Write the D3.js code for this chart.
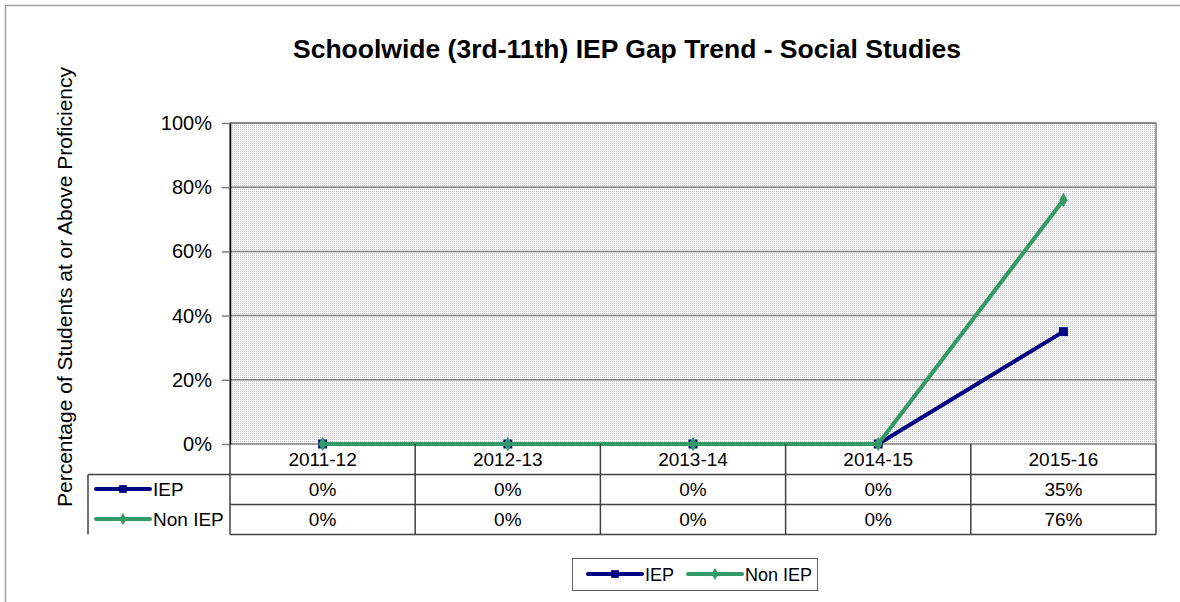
<!DOCTYPE html>
<html>
<head>
<meta charset="utf-8">
<script src="https://cdn.jsdelivr.net/npm/d3@7"></script>
<style>
  body { margin: 0; background: #fff; }
  svg { font-family: "Liberation Sans", Arial, sans-serif; }
</style>
</head>
<body>
<svg id="chart" width="1180" height="602"></svg>
<script>
// data
var years = ["2011-12", "2012-13", "2013-14", "2014-15", "2015-16"];
var iepValues = [0, 0, 0, 0, 35];
var nonIepValues = [0, 0, 0, 0, 76];
var yTicks = [0, 20, 40, 60, 80, 100];

var seriesNames = ["IEP", "Non IEP"];
var seriesColors = ["#000080", "#339966"];
var seriesValues = [iepValues, nonIepValues];

var margin = {left: 230, top: 123, right: 24, bottom: 158};
var width = 1180 - margin.left - margin.right;
var height = 602 - margin.top - margin.bottom;

var svg = d3.select("#chart");

// outer frame, runs off the right and bottom edges
svg.append("rect")
    .attr("x", 5.5).attr("y", 5.5)
    .attr("width", 1200).attr("height", 700)
    .attr("fill", "white")
    .attr("stroke", "#a0a0a0")
    .attr("stroke-width", 1.5);

// dotted plot fill
var defs = svg.append("defs");
var pat = defs.append("pattern")
    .attr("id", "dots")
    .attr("width", 2).attr("height", 2)
    .attr("patternUnits", "userSpaceOnUse");
pat.append("rect").attr("width", 2).attr("height", 2).attr("fill", "#f6f6f6");
pat.append("rect").attr("width", 1).attr("height", 1).attr("fill", "#cacaca");

var xs = d3.scaleBand().domain(years).range([0, width]);
var ys = d3.scaleLinear().domain([0, 100]).range([height, 0]);

var g = svg.append("g")
    .attr("transform", "translate(" + margin.left + "," + margin.top + ")");

g.append("rect")
    .attr("width", width).attr("height", height)
    .attr("fill", "url(#dots)")
    .attr("stroke", "#808080")
    .attr("stroke-width", 1.5);

// gridlines
g.selectAll(".grid")
    .data(yTicks.filter(d => d > 0))
    .enter()
    .append("line")
        .attr("x1", 0).attr("x2", width)
        .attr("y1", d => ys(d)).attr("y2", d => ys(d))
        .attr("stroke", "#808080")
        .attr("stroke-width", 1.5);

// y axis
var yAxis = g.append("g")
    .call(d3.axisLeft(ys).tickValues(yTicks).tickFormat(d => d + "%").tickSize(8).tickSizeOuter(0).tickPadding(10));
yAxis.select(".domain").attr("stroke", "#000").attr("stroke-width", 1.5);
yAxis.selectAll(".tick line").attr("stroke", "#808080").attr("stroke-width", 1.5);
yAxis.selectAll("text")
    .style("font-size", "20px")
    .style("font-family", "Liberation Sans, Arial, sans-serif")
    .attr("fill", "#000");

// lines + markers
var line = d3.line()
    .x((d, i) => xs(years[i]) + xs.bandwidth() / 2)
    .y(d => ys(d));

seriesValues.forEach(function(vals, s) {
    g.append("path")
        .datum(vals)
        .attr("d", line)
        .attr("fill", "none")
        .attr("stroke", seriesColors[s])
        .attr("stroke-width", 4);

    var sym = s == 0 ? d3.symbolSquare : d3.symbolDiamond;
    var size = s == 0 ? 80 : 60;
    g.selectAll(".m" + s)
        .data(vals)
        .enter()
        .append("path")
            .attr("transform", (d, i) => "translate(" + (xs(years[i]) + xs.bandwidth() / 2) + "," + ys(d) + ")")
            .attr("d", d3.symbol().type(sym).size(size))
            .attr("fill", seriesColors[s]);
});

// data table under the plot
var rowH = 30;
var tableTop = margin.top + height;
var tableLeft = 88;
var tbl = svg.append("g");

var rowLines = [1, 2, 3];
tbl.selectAll(".hline")
    .data(rowLines)
    .enter()
    .append("line")
        .attr("x1", d => d == 1 ? tableLeft : margin.left)
        .attr("x2", margin.left + width)
        .attr("y1", d => tableTop + d * rowH + 0.5)
        .attr("y2", d => tableTop + d * rowH + 0.5)
        .attr("stroke", "#404040")
        .attr("stroke-width", 1.5);

tbl.selectAll(".vline")
    .data(years.concat(["end"]))
    .enter()
    .append("line")
        .attr("x1", (d, i) => margin.left + i * xs.bandwidth())
        .attr("x2", (d, i) => margin.left + i * xs.bandwidth())
        .attr("y1", tableTop)
        .attr("y2", tableTop + 3 * rowH + 0.5)
        .attr("stroke", "#404040")
        .attr("stroke-width", 1.5);

tbl.append("line")
    .attr("x1", tableLeft).attr("x2", tableLeft)
    .attr("y1", tableTop + rowH + 0.5).attr("y2", tableTop + 3 * rowH + 0.5)
    .attr("stroke", "#404040").attr("stroke-width", 1.5);

tbl.selectAll(".cat")
    .data(years)
    .enter()
    .append("text")
        .attr("x", d => margin.left + xs(d) + xs.bandwidth() / 2)
        .attr("y", tableTop + 22)
        .attr("text-anchor", "middle")
        .style("font-size", "19px")
        .text(d => d);

seriesValues.forEach(function(vals, s) {
    var cy = tableTop + rowH * (s + 1) + rowH / 2;
    tbl.selectAll(".val" + s)
        .data(vals)
        .enter()
        .append("text")
            .attr("x", (d, i) => margin.left + xs(years[i]) + xs.bandwidth() / 2)
            .attr("y", cy + 7)
            .attr("text-anchor", "middle")
            .style("font-size", "19px")
            .text(d => d + "%");

    tbl.append("line")
        .attr("x1", 96).attr("x2", 150)
        .attr("y1", cy).attr("y2", cy)
        .attr("stroke", seriesColors[s])
        .attr("stroke-width", 4)
        .attr("stroke-linecap", "round");
    tbl.append("path")
        .attr("transform", "translate(123," + cy + ")")
        .attr("d", d3.symbol().type(s == 0 ? d3.symbolSquare : d3.symbolDiamond).size(s == 0 ? 60 : 40))
        .attr("fill", seriesColors[s]);
    tbl.append("text")
        .attr("x", 153).attr("y", cy + 7)
        .style("font-size", "19px")
        .text(seriesNames[s]);
});

// bottom legend
var leg = svg.append("g");
leg.append("rect")
    .attr("x", 572.5).attr("y", 558.5)
    .attr("width", 245).attr("height", 32)
    .attr("fill", "white")
    .attr("stroke", "#606060")
    .attr("stroke-width", 1);

var legX = [588, 688];
seriesNames.forEach(function(name, s) {
    var ly = 574;
    leg.append("line")
        .attr("x1", legX[s]).attr("x2", legX[s] + 54)
        .attr("y1", ly).attr("y2", ly)
        .attr("stroke", seriesColors[s])
        .attr("stroke-width", 4)
        .attr("stroke-linecap", "round");
    leg.append("path")
        .attr("transform", "translate(" + (legX[s] + 27) + "," + ly + ")")
        .attr("d", d3.symbol().type(s == 0 ? d3.symbolSquare : d3.symbolDiamond).size(s == 0 ? 60 : 40))
        .attr("fill", seriesColors[s]);
    leg.append("text")
        .attr("x", legX[s] + 57).attr("y", ly + 7)
        .style("font-size", "18px")
        .text(name);
});

// title
svg.append("text")
    .attr("x", 627).attr("y", 58)
    .attr("text-anchor", "middle")
    .style("font-size", "26.5px")
    .style("font-weight", "bold")
    .text("Schoolwide (3rd-11th) IEP Gap Trend - Social Studies");

// y axis title
svg.append("text")
    .attr("transform", "translate(72,287) rotate(-90)")
    .attr("text-anchor", "middle")
    .style("font-size", "21px")
    .text("Percentage of Students at or Above Proficiency");
</script>
</body>
</html>
